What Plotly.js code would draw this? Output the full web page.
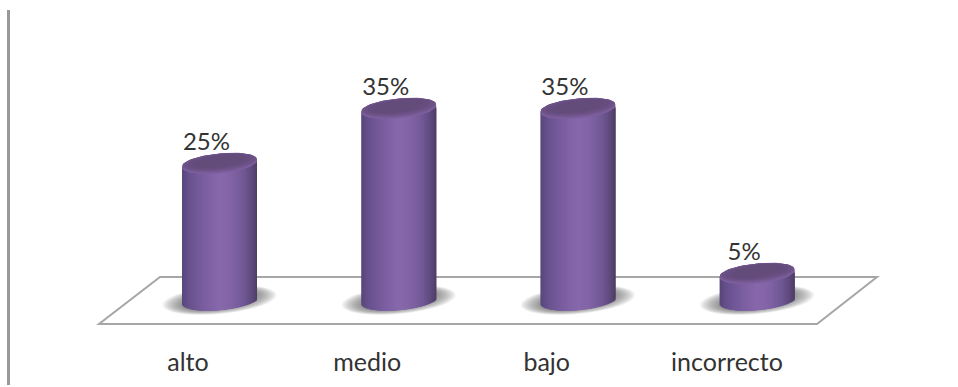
<!DOCTYPE html>
<html>
<head>
<meta charset="utf-8">
<script src="https://cdn.plot.ly/plotly-3.0.1.min.js"></script>
<style>html,body{margin:0;padding:0;background:#fff}#chart{width:958px;height:387px}</style>
</head>
<body>
<div id="chart"></div>
<script>
// Survey results, in percent
const categories = ['alto', 'medio', 'bajo', 'incorrecto'];
const values = [25, 35, 35, 5];
const categoryIndex = [0, 1, 2, 3];
const tickPositions = [-0.176, 0.824, 1.826, 2.832];

// Page geometry of the plot, in pixels
const W = 958, H = 387, bottomMargin = 52;
const originX = 219.5, pxPerCategory = 179.2;
const originY = 300.5, pxPerUnit = 5.5;

const xToData = px => px / pxPerCategory;
const yToData = px => px / pxPerUnit;

// Cylinder cross-section: half width, half depth and the slant of the ellipse, in pixels
const RX = 37.5, RY = 9.6, SLANT = 3.5;

// Horizontal shading stops across a cylinder (position -1..1, rgb)
const shadeStops = [
  [-1.0, [88, 70, 122]], [-0.8, [104, 81, 142]], [-0.4, [122, 94, 160]],
  [0.0, [136, 104, 172]], [0.3, [130, 100, 166]], [0.65, [112, 88, 148]],
  [0.88, [92, 72, 122]], [1.0, [78, 60, 100]]
];
function shade(u) {
  for (let i = 1; i < shadeStops.length; i++) {
    const [u0, c0] = shadeStops[i - 1], [u1, c1] = shadeStops[i];
    if (u <= u1) {
      const t = (u - u0) / (u1 - u0);
      return 'rgb(' + c0.map((c, k) => Math.round(c + (c1[k] - c) * t)).join(',') + ')';
    }
  }
  return 'rgb(78,60,100)';
}

// Outline of a slanted ellipse around a data position
function ellipse(cx, cy, rx, ry, slant) {
  const xs = [], ys = [];
  for (let a = 0; a <= 72; a++) {
    const t = a / 72 * 2 * Math.PI;
    xs.push(cx + xToData(rx * Math.cos(t)));
    ys.push(cy + yToData(ry * Math.sin(t) + slant * Math.cos(t)));
  }
  return { xs, ys };
}
const path = e => 'M' + e.xs.map((x, i) => x + ',' + e.ys[i]).join('L') + 'Z';

const traces = [];

// Cylinder bodies: narrow overlapping bars side by side, each as tall as the value,
// resting on the curved front edge of the base
const strips = Math.round(RX * 2);
for (let k = 0; k < strips; k++) {
  const u = -1 + (2 * k + 1) / strips;
  const edge = yToData(SLANT * u - RY * Math.sqrt(1 - u * u));
  traces.push({
    type: 'bar',
    x: categoryIndex,
    y: values,
    base: values.map(() => edge),
    width: xToData(Math.min(3, strips - k)),
    offset: xToData(-RX + k),
    marker: { color: shade(u), line: { width: 0 } },
    hoverinfo: 'skip',
    showlegend: false
  });
}

// Cylinder tops: a lighter rim fading into a darker cap
const capLayers = [
  [-1, 0, 0, '#7d60a0'],
  [0, 0, 0, '#7a5c9d'],
  [0.5, 0.3, 0.5, '#75598f'],
  [0.9, 0.8, 1.1, '#6f5489'],
  [1.2, 2.5, 1.9, '#6a5084'],
  [1.6, 6, 2.8, '#664d7f'],
  [1.9, 12, 3.8, '#634b7a']
];
function capTrace(idx, layer) {
  const [dy, drx, dry, color] = layer;
  const e = ellipse(categoryIndex[idx], values[idx] + yToData(dy), RX - drx, RY - dry, SLANT);
  return {
    type: 'scatter', mode: 'lines', x: e.xs, y: e.ys, fill: 'toself',
    fillcolor: color, line: { width: 0, color: color },
    hoverinfo: 'skip', showlegend: false
  };
}
categories.forEach((_, i) => capLayers.forEach(l => traces.push(capTrace(i, l))));

// Value labels above each cylinder
traces.push({
  type: 'scatter',
  mode: 'text',
  x: categoryIndex.map(c => c + xToData(-13)),
  y: values.map(v => v + yToData(19.5)),
  text: values.map(v => v + '%'),
  textposition: 'middle center',
  textfont: { family: 'Lato, sans-serif', size: 24, color: '#333333' },
  hoverinfo: 'skip',
  showlegend: false
});

// Floor plane and the soft shadow each cylinder casts on it
const floorPts = [[160, 277], [877, 277], [817, 324], [99, 324]];
const floorPath = 'M' + floorPts.map(p =>
  xToData(p[0] - originX) + ',' + yToData(originY - p[1])).join('L') + 'Z';

const shapes = [{
  type: 'path', path: floorPath, xref: 'x', yref: 'y', layer: 'below',
  line: { color: '#a6a6a6', width: 2 }, fillcolor: '#ffffff'
}];
categoryIndex.forEach(c => {
  for (let s = 0; s < 14; s++) {
    shapes.push({
      type: 'path',
      path: path(ellipse(c, yToData(0.5), 57 - s * 1.7, 14 - s * 0.4, 5)),
      xref: 'x', yref: 'y', layer: 'below',
      line: { width: 0 }, fillcolor: 'rgba(90,90,90,0.07)'
    });
  }
});

// Vertical rule at the left of the page
const plotH = H - bottomMargin;
shapes.push({
  type: 'line', xref: 'paper', yref: 'paper',
  x0: 8.5 / W, x1: 8.5 / W,
  y0: (plotH - 10) / plotH, y1: (plotH - 385) / plotH,
  line: { color: '#999999', width: 3 }
});

const layout = {
  width: W, height: H,
  margin: { l: 0, r: 0, t: 0, b: bottomMargin, pad: 0 },
  paper_bgcolor: '#ffffff', plot_bgcolor: 'rgba(0,0,0,0)',
  barmode: 'overlay',
  showlegend: false,
  shapes,
  xaxis: {
    range: [-originX / pxPerCategory, (W - originX) / pxPerCategory],
    tickmode: 'array', tickvals: tickPositions, ticktext: categories,
    tickfont: { family: 'Lato, sans-serif', size: 25, color: '#333333' },
    ticks: 'outside', ticklen: 5, tickcolor: 'rgba(0,0,0,0)',
    showgrid: false, zeroline: false, showline: false, fixedrange: true
  },
  yaxis: {
    range: [(originY - plotH) / pxPerUnit, originY / pxPerUnit],
    visible: false, showgrid: false, zeroline: false, fixedrange: true
  }
};

Plotly.newPlot('chart', traces, layout, { displayModeBar: false, staticPlot: true });
</script>
</body>
</html>
